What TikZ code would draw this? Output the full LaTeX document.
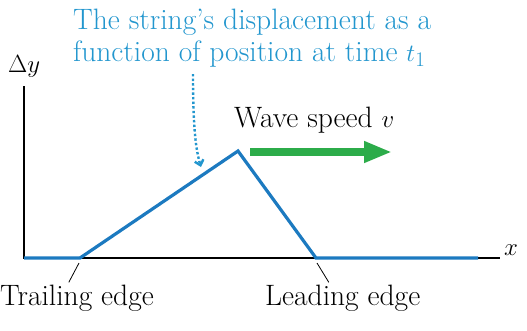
\documentclass[tikz,border=0pt]{standalone}
\usetikzlibrary{positioning,arrows.meta}
\definecolor{capblue}{RGB}{34,150,206}
\definecolor{waveblue}{RGB}{28,122,192}
\definecolor{speedgreen}{RGB}{44,172,74}

\begin{document}
\begin{tikzpicture}[x=1pt,y=-1pt,font=\fontsize{29.5}{32}\selectfont]
  \tikzstyle{axis}=[draw=black,line width=1.3pt]
  \tikzstyle{wave}=[draw=waveblue,line width=3.2pt,line join=miter]
  \tikzstyle{lbl}=[inner sep=0pt]
  \tikzstyle{edgelbl}=[inner sep=2pt]
  \tikzstyle{pointer}=[draw=black,line width=0.8pt]
  \useasboundingbox (0,0) rectangle (527,330);
  % axes
  \coordinate (o) at (24,258);
  \coordinate (ytop) at (24,86);
  \coordinate (xend) at (500,258);
  \draw[axis] (ytop) -- (o) -- (xend);
  \node[lbl,anchor=base west] (dy) at (8,72) {$\Delta y$};
  \node[lbl,anchor=base west] (xl) at (504,255) {$x$};
  % the pulse
  \coordinate (tr) at (80,258);
  \coordinate (pk) at (238,151);
  \coordinate (ld) at (316,258);
  \coordinate (we) at (478,258);
  \draw[wave] (o) -- (tr) -- (pk) -- (ld) -- (we);
  % caption and its dotted pointer
  \node[lbl,text=capblue,align=left,anchor=north west] (cap) at (73,9)
    {The string's displacement as a\\function of position at time $t_1$};
  \coordinate (dstart) at (193,74);
  \coordinate (dend) at (201,167);
  \draw[capblue,line width=2.4pt,dash pattern=on 2.4pt off 2.2pt,-{Straight Barb[length=5pt,width=9pt]}]
    (dstart) .. controls (193,130) and (196,150) .. (dend);
  % wave speed
  \node[lbl,anchor=base west] (ws) at (234,127) {Wave speed $v$};
  \coordinate (vs) at (250,152);
  \coordinate (ve) at (392,152);
  \draw[speedgreen,line width=8pt,-{Triangle[length=28pt,width=20pt]}] (vs) -- (ve);
  % edge labels
  \node[edgelbl,anchor=base west] (trl) at (-2,305) {Trailing edge};
  \node[edgelbl,anchor=base west] (lel) at (263,305) {Leading edge};
  \coordinate (trp) at (79,263);
  \coordinate (lep) at (317,263);
  \draw[pointer] (trp) -- (trl.118);
  \draw[pointer] (lep) -- (lel.132);
\end{tikzpicture}
\end{document}
